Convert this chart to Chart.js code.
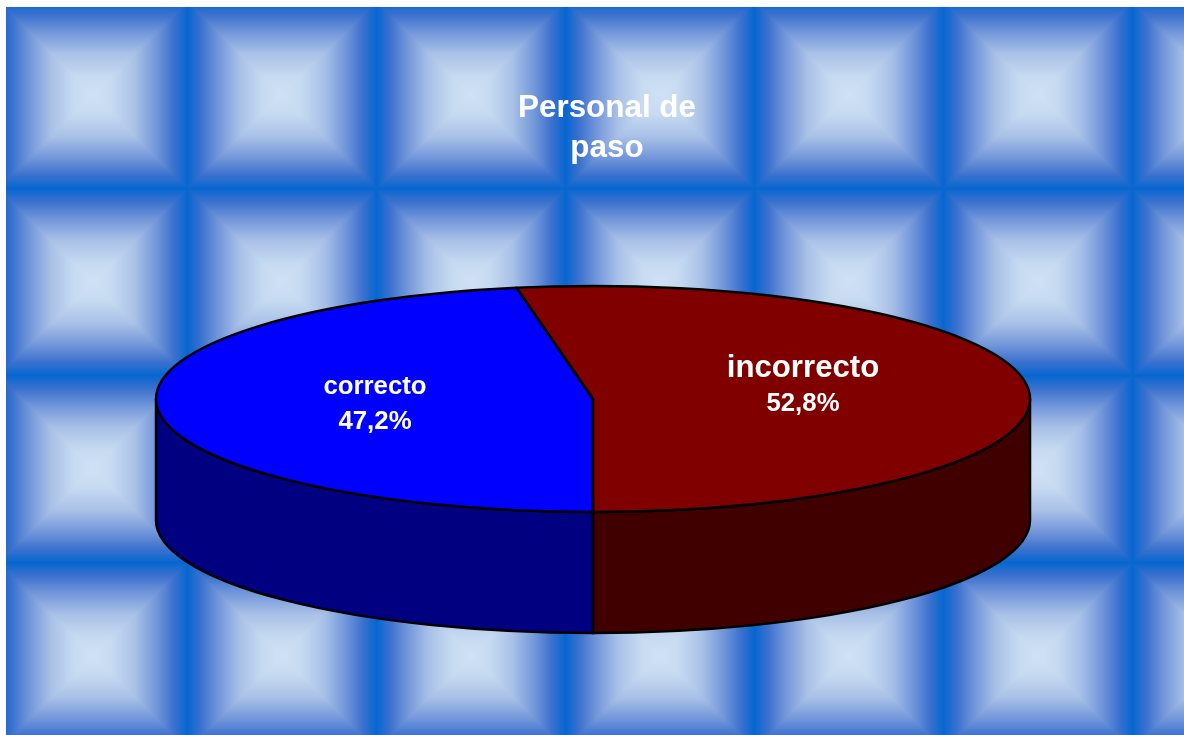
<!DOCTYPE html>
<html>
<head>
<meta charset="utf-8">
<title>Personal de paso</title>
<script src="https://cdn.jsdelivr.net/npm/chart.js@4/dist/chart.umd.min.js"></script>
<style>
  html, body { margin: 0; padding: 0; background: #fff; }
  #chart { display: block; }
</style>
</head>
<body>
<canvas id="chart" width="1184" height="735"></canvas>
<script>
const categories = ['incorrecto', 'correcto'];
const values = [52.8, 47.2];
const topColors = ['#800000', '#0000ff'];
const sideColors = ['#400000', '#000080'];
const titleLines = ['Personal de', 'paso'];

// pie geometry, measured on the reference
const PIE_X = 593, PIE_Y = 399, RADIUS_X = 437, RADIUS_Y = 113, DEPTH = 121;
const FONT = '"Liberation Sans", Arial, sans-serif';

// label placement per category: centre x, name y, value y, name size, value size
const labelStyle = [
  { x: 803, nameY: 368, valueY: 404, nameSize: 31.2, valueSize: 25.8 },
  { x: 375, nameY: 387, valueY: 422, nameSize: 25.8, valueSize: 25.8 }
];

// tile background
const TILE_W = 189, TILE_H = 187, TILE_X = -2, TILE_Y = 1, BG_LEFT = 6, BG_TOP = 7;
const tileStops = [
  [0, [207, 225, 245]], [0.2, [198, 218, 241]], [0.45, [168, 192, 231]],
  [0.68, [112, 149, 217]], [0.85, [61, 114, 206]], [1, [7, 102, 208]]
];

function tileColor(t) {
  for (let i = 1; i < tileStops.length; i++) {
    if (t <= tileStops[i][0]) {
      const [t0, c0] = tileStops[i - 1], [t1, c1] = tileStops[i];
      const k = (t - t0) / (t1 - t0);
      return c0.map((c, n) => c + (c1[n] - c) * k);
    }
  }
  return tileStops[tileStops.length - 1][1];
}

function makeBackground(w, h) {
  const cv = document.createElement('canvas');
  cv.width = w; cv.height = h;
  const c = cv.getContext('2d');
  const img = c.createImageData(w, h);
  for (let y = 0; y < h; y++) {
    for (let x = 0; x < w; x++) {
      const p = (y * w + x) * 4;
      let col = [255, 255, 255];
      if (x >= BG_LEFT && y >= BG_TOP) {
        const fx = ((x - TILE_X) % TILE_W + TILE_W) % TILE_W;
        const fy = ((y - TILE_Y) % TILE_H + TILE_H) % TILE_H;
        const dx = Math.abs(fx - TILE_W / 2) / (TILE_W / 2);
        const dy = Math.abs(fy - TILE_H / 2) / (TILE_H / 2);
        col = tileColor(Math.max(dx, dy));
      }
      img.data[p] = col[0]; img.data[p + 1] = col[1]; img.data[p + 2] = col[2]; img.data[p + 3] = 255;
    }
  }
  c.putImageData(img, 0, 0);
  return cv;
}

const pie3d = {
  id: 'pie3d',
  beforeDraw(chart) {
    if (!chart.$bg) chart.$bg = makeBackground(chart.width, chart.height);
    chart.ctx.drawImage(chart.$bg, 0, 0);
  },
  beforeDatasetsDraw(chart) {
    const ctx = chart.ctx;
    const arcs = chart.getDatasetMeta(0).data;
    // side walls, only the front half of the ring shows
    arcs.forEach((arc, i) => {
      const a0 = Math.max(arc.startAngle, 0), a1 = Math.min(arc.endAngle, Math.PI);
      if (a0 >= a1) return;
      ctx.beginPath();
      ctx.ellipse(PIE_X, PIE_Y, RADIUS_X, RADIUS_Y, 0, a0, a1);
      ctx.ellipse(PIE_X, PIE_Y + DEPTH, RADIUS_X, RADIUS_Y, 0, a1, a0, true);
      ctx.closePath();
      ctx.fillStyle = sideColors[i];
      ctx.fill();
      ctx.lineWidth = 2.5;
      ctx.strokeStyle = '#000';
      ctx.stroke();
    });
    // squash the library's round slices into the top ellipse
    ctx.save();
    ctx.translate(PIE_X, PIE_Y);
    ctx.scale(1, RADIUS_Y / RADIUS_X);
    ctx.translate(-arcs[0].x, -arcs[0].y);
  },
  afterDatasetsDraw(chart) {
    const ctx = chart.ctx;
    ctx.restore();
    const arcs = chart.getDatasetMeta(0).data;
    ctx.strokeStyle = '#000';
    ctx.lineWidth = 2.5;
    ctx.lineJoin = 'round';
    arcs.forEach(arc => {
      ctx.beginPath();
      ctx.moveTo(PIE_X, PIE_Y);
      ctx.ellipse(PIE_X, PIE_Y, RADIUS_X, RADIUS_Y, 0, arc.startAngle, arc.endAngle);
      ctx.closePath();
      ctx.stroke();
    });
    ctx.fillStyle = '#fff';
    ctx.textAlign = 'center';
    ctx.textBaseline = 'middle';
    categories.forEach((name, i) => {
      const s = labelStyle[i];
      ctx.font = 'bold ' + s.nameSize + 'px ' + FONT;
      ctx.fillText(name, s.x, s.nameY);
      ctx.font = 'bold ' + s.valueSize + 'px ' + FONT;
      ctx.fillText(values[i].toFixed(1).replace('.', ',') + '%', s.x, s.valueY);
    });
  }
};

new Chart(document.getElementById('chart'), {
  type: 'pie',
  data: {
    labels: categories,
    datasets: [{
      data: values,
      backgroundColor: topColors,
      borderWidth: 0
    }]
  },
  options: {
    responsive: false,
    animation: false,
    rotation: -10.08,
    radius: RADIUS_X,
    layout: { padding: { left: 30 } },
    plugins: {
      legend: { display: false },
      tooltip: { enabled: false },
      title: {
        display: true,
        text: titleLines,
        color: '#fff',
        font: { family: FONT, size: 31.4, weight: 'bold', lineHeight: 1.29 },
        padding: { top: 88, bottom: 0 }
      }
    }
  },
  plugins: [pie3d]
});
</script>
</body>
</html>
